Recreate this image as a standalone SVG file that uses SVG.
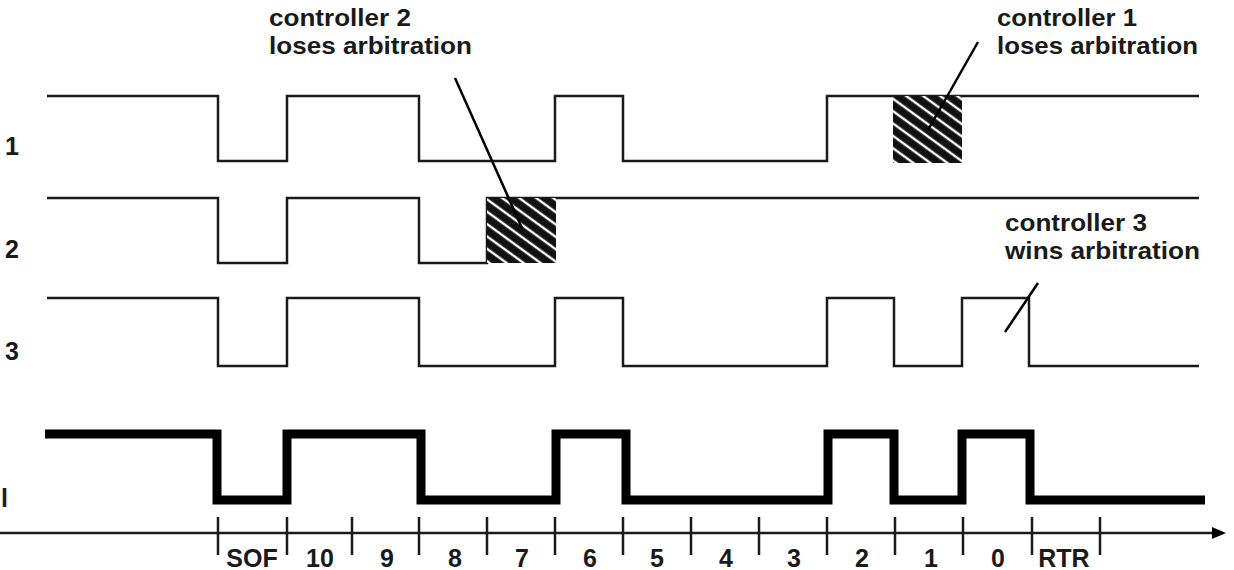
<svg xmlns="http://www.w3.org/2000/svg" width="1234" height="570" viewBox="0 0 1234 570">
<style>
.sig{fill:none;stroke:#1a1a1a;stroke-width:2.5;stroke-linejoin:miter}
.bus{fill:none;stroke:#000;stroke-width:9;stroke-linejoin:miter}
.lead{fill:none;stroke:#000;stroke-width:2.5}
.axis{fill:none;stroke:#1a1a1a;stroke-width:2.5}
.tick{fill:none;stroke:#1a1a1a;stroke-width:2.5}
text{font-family:"Liberation Sans",Arial,sans-serif;font-weight:bold;fill:#1a1a1a}
.ann{font-size:24px}
.lab{font-size:25px;text-anchor:middle}
.side{font-size:25px;text-anchor:start}
</style>
<defs>
<pattern id="hatch" width="10" height="10" patternUnits="userSpaceOnUse" patternTransform="rotate(36)">
<rect width="10" height="10" fill="#111"/>
<line x1="0" y1="5" x2="10" y2="5" stroke="#fff" stroke-width="2.4"/>
</pattern>
<marker id="arr" viewBox="0 0 14 12" refX="2" refY="6" markerWidth="14" markerHeight="12" markerUnits="userSpaceOnUse" orient="auto">
<path d="M0,0 L14,6 L0,12 z" fill="#000"/>
</marker>
</defs>

<g id="side-labels">
<text class="side" x="5" y="155">1</text>
<text class="side" x="5" y="258">2</text>
<text class="side" x="5" y="360">3</text>
<text class="side" x="1" y="507">l</text>
</g>

<g id="controller1">
<path class="sig" d="M47,96 H218 V161 H287 V96 H419 V161 H555 V96 H623 V161 H827 V96 H1199"/>
<rect x="893" y="96" width="69" height="67" fill="url(#hatch)"/>
</g>

<g id="controller2">
<path class="sig" d="M47,198 H218 V263 H287 V198 H419 V263 H487 V198 H1199"/>
<rect x="487" y="198" width="69" height="65" fill="url(#hatch)"/>
</g>

<g id="controller3">
<path class="sig" d="M47,298 H218 V366 H287 V298 H419 V366 H555 V298 H623 V366 H827 V298 H894 V366 H962 V298 H1029 V366 H1199"/>
</g>

<g id="bus">
<path class="bus" d="M45,434 H217 V500 H287 V434 H421 V500 H556 V434 H626 V500 H828 V434 H894 V500 H962 V434 H1030 V500 H1205"/>
</g>

<g id="axis">
<line class="axis" x1="0" y1="533" x2="1214" y2="533" marker-end="url(#arr)"/>
<g class="ticks">
<line class="tick" x1="218" y1="517" x2="218" y2="555"/>
<line class="tick" x1="287" y1="517" x2="287" y2="555"/>
<line class="tick" x1="352" y1="517" x2="352" y2="555"/>
<line class="tick" x1="419" y1="517" x2="419" y2="555"/>
<line class="tick" x1="487" y1="517" x2="487" y2="555"/>
<line class="tick" x1="555" y1="517" x2="555" y2="555"/>
<line class="tick" x1="623" y1="517" x2="623" y2="555"/>
<line class="tick" x1="691" y1="517" x2="691" y2="555"/>
<line class="tick" x1="759" y1="517" x2="759" y2="555"/>
<line class="tick" x1="827" y1="517" x2="827" y2="555"/>
<line class="tick" x1="895" y1="517" x2="895" y2="555"/>
<line class="tick" x1="963" y1="517" x2="963" y2="555"/>
<line class="tick" x1="1032" y1="517" x2="1032" y2="555"/>
<line class="tick" x1="1100" y1="517" x2="1100" y2="555"/>
</g>
<text class="lab" x="252" y="567">SOF</text>
<text class="lab" x="320" y="567">10</text>
<text class="lab" x="387" y="567">9</text>
<text class="lab" x="455" y="567">8</text>
<text class="lab" x="522" y="567">7</text>
<text class="lab" x="590" y="567">6</text>
<text class="lab" x="657" y="567">5</text>
<text class="lab" x="726" y="567">4</text>
<text class="lab" x="794" y="567">3</text>
<text class="lab" x="862" y="567">2</text>
<text class="lab" x="931" y="567">1</text>
<text class="lab" x="998" y="567">0</text>
<text class="lab" x="1064" y="567">RTR</text>
</g>

<g id="connectors">
<line class="lead" x1="455" y1="78" x2="522" y2="228"/>
<line class="lead" x1="978" y1="42" x2="928" y2="130"/>
<line class="lead" x1="1038" y1="283" x2="1005" y2="332"/>
</g>

<g id="annotation-c2">
<text class="ann" x="269" y="26" textLength="142" lengthAdjust="spacingAndGlyphs">controller 2</text>
<text class="ann" x="269" y="54" textLength="203" lengthAdjust="spacingAndGlyphs">loses arbitration</text>
</g>
<g id="annotation-c1">
<text class="ann" x="997" y="26" textLength="140" lengthAdjust="spacingAndGlyphs">controller 1</text>
<text class="ann" x="997" y="54" textLength="201" lengthAdjust="spacingAndGlyphs">loses arbitration</text>
</g>
<g id="annotation-c3">
<text class="ann" x="1005" y="231" textLength="142" lengthAdjust="spacingAndGlyphs">controller 3</text>
<text class="ann" x="1005" y="259" textLength="195" lengthAdjust="spacingAndGlyphs">wins arbitration</text>
</g>
</svg>
